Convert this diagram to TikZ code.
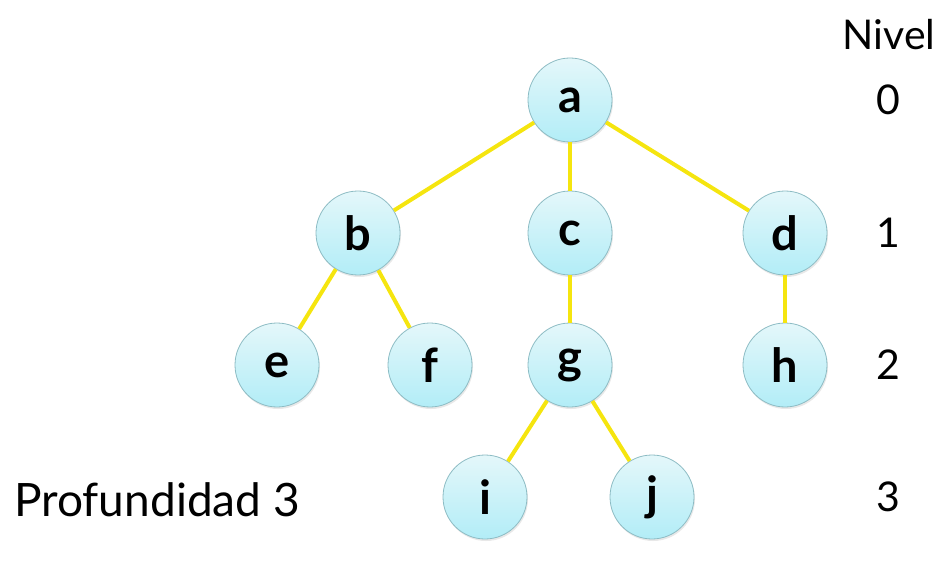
\documentclass[tikz,border=0pt]{standalone}
\usepackage{fontspec}
\setmainfont{Lato}
\usetikzlibrary{shadows}
\definecolor{nodeTop}{HTML}{E4F7FA}
\definecolor{nodeBot}{HTML}{B2EDF7}
\definecolor{nodeEdge}{HTML}{8DBCC4}
\definecolor{edgeYellow}{HTML}{F5E50F}
\begin{document}
\begin{tikzpicture}[x=1pt,y=-1pt,
  treenode/.style={circle,minimum size=84pt,inner sep=0pt,draw=nodeEdge,line width=0.8pt,
    top color=nodeTop,bottom color=nodeBot,
    drop shadow={opacity=0.18,shadow xshift=1pt,shadow yshift=-2pt},
    font=\fontsize{47}{47}\selectfont\bfseries},
  link/.style={draw=edgeYellow,line width=4pt},
  lbl/.style={font=\fontsize{41}{44}\selectfont,inner sep=0pt},
  biglbl/.style={font=\fontsize{46}{48}\selectfont,inner sep=0pt}]
\useasboundingbox (0,0) rectangle (948,564);
\node[treenode] (a) at (570,100) {a};
\node[treenode] (b) at (358,233) {b};
\node[treenode] (c) at (570,233) {c};
\node[treenode] (d) at (785,233) {d};
\node[treenode] (e) at (277,365) {e};
\node[treenode] (f) at (430,365) {f};
\node[treenode] (g) at (570,365) {g};
\node[treenode] (h) at (785,365) {h};
\node[treenode] (i) at (485,497) {i};
\node[treenode] (j) at (652,497) {j};
\draw[link] (a) -- (b);
\draw[link] (a) -- (c);
\draw[link] (a) -- (d);
\draw[link] (b) -- (e);
\draw[link] (b) -- (f);
\draw[link] (c) -- (g);
\draw[link] (d) -- (h);
\draw[link] (g) -- (i);
\draw[link] (g) -- (j);
\node[lbl] (nivel) at (889,35) {Nivel};
\node[lbl] (n0) at (888,100) {0};
\node[lbl] (n1) at (888,233) {1};
\node[lbl] (n2) at (888,365) {2};
\node[lbl] (n3) at (888,497) {3};
\node[biglbl,anchor=west] (prof) at (14,500) {Profundidad 3};
\end{tikzpicture}
\end{document}
